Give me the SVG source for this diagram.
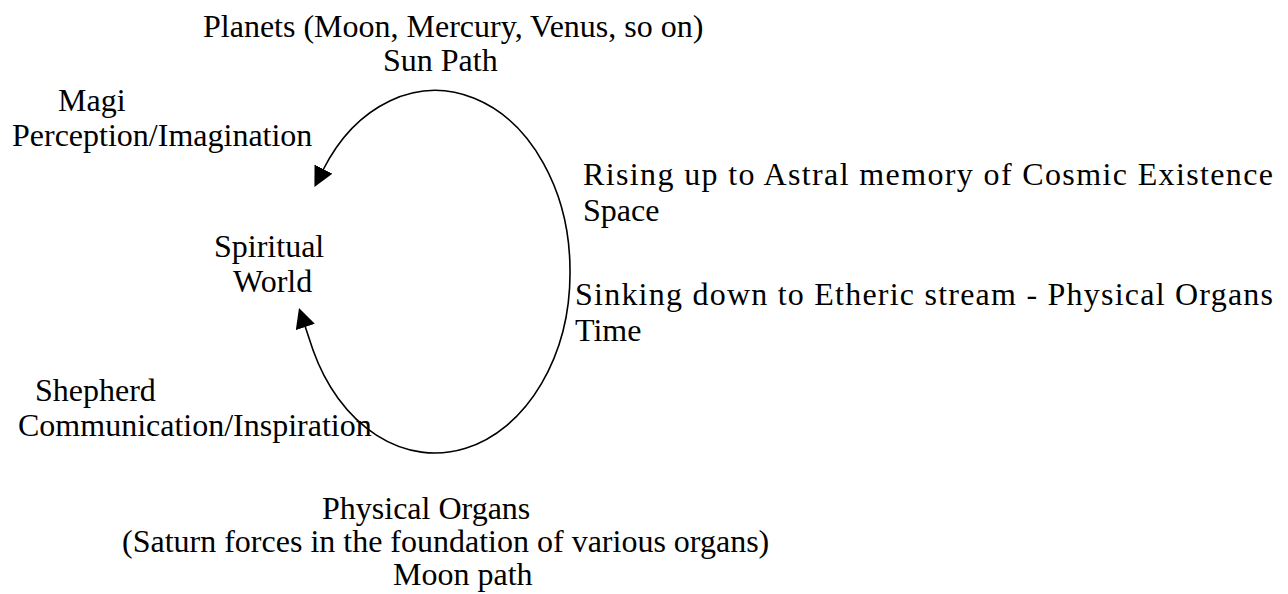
<svg xmlns="http://www.w3.org/2000/svg" width="1288" height="594" viewBox="0 0 1288 594">
<style>
text{font-family:"Liberation Serif","Times New Roman",serif;font-size:32px;fill:#000}
.arc{fill:none;stroke:#000;stroke-width:1.6}
</style>
<defs>
<marker id="ah" markerUnits="userSpaceOnUse" markerWidth="22" markerHeight="22" refX="1" refY="10" orient="auto">
<path d="M0,0 L20,10 L0,20 z" fill="#000"/>
</marker>
</defs>
<rect width="1288" height="594" fill="#fff"/>
<g id="connectors">
<path class="arc" d="M570,270 A135,180 0 0 0 323,170" marker-end="url(#ah)"/>
<path class="arc" d="M570,270 A135,180 0 0 1 313,350 L305,326" marker-end="url(#ah)"/>
</g>
<g id="planets"><text x="203" y="37">Planets (Moon, Mercury, Venus, so on)</text><text x="383" y="71">Sun Path</text></g>
<g id="magi"><text x="58" y="111">Magi</text><text x="12" y="146">Perception/Imagination</text></g>
<g id="spiritual"><text x="214" y="257">Spiritual</text><text x="233" y="292">World</text></g>
<g id="rising"><text x="583" y="185" textLength="690" lengthAdjust="spacing">Rising up to Astral memory of Cosmic Existence</text><text x="583" y="221">Space</text></g>
<g id="sinking"><text x="575" y="305" textLength="698" lengthAdjust="spacing">Sinking down to Etheric stream - Physical Organs</text><text x="575" y="341">Time</text></g>
<g id="shepherd"><text x="35" y="401">Shepherd</text><text x="18" y="436">Communication/Inspiration</text></g>
<g id="physical"><text x="322" y="519">Physical Organs</text><text x="122" y="552">(Saturn forces in the foundation of various organs)</text><text x="393" y="585">Moon path</text></g>
</svg>
